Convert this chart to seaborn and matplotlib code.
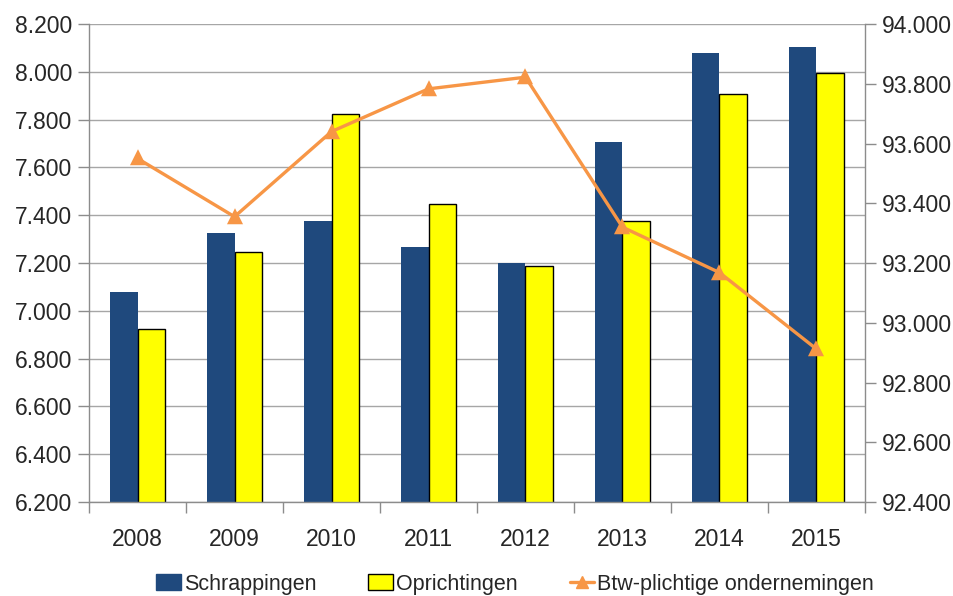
import numpy as np
import pandas as pd
import seaborn as sns
import matplotlib.pyplot as plt
from matplotlib.ticker import FuncFormatter, FixedLocator
from matplotlib.patches import Patch
from matplotlib.lines import Line2D

years = ["2008", "2009", "2010", "2011", "2012", "2013", "2014", "2015"]
schrappingen = [7080, 7326, 7377, 7266, 7200, 7708, 8078, 8104]
oprichtingen = [6923, 7246, 7824, 7447, 7188, 7375, 7908, 7995]
btw_plichtig = [93550, 93355, 93640, 93783, 93822, 93320, 93168, 92912]

navy = "#1F497D"
yellow = "#FFFF00"
orange = "#F79646"
grid_gray = "#A6A6A6"


def dot_thousands(v, pos):
    return "{:,.0f}".format(v).replace(",", ".")


def main():
    sns.set_style("white")
    plt.rcParams["font.family"] = ["Liberation Sans", "DejaVu Sans"]

    bars = pd.DataFrame({
        "jaar": years * 2,
        "waarde": schrappingen + oprichtingen,
        "reeks": ["Schrappingen"] * len(years) + ["Oprichtingen"] * len(years),
    })
    line = pd.DataFrame({"jaar": years, "waarde": btw_plichtig})

    fig, ax = plt.subplots(figsize=(9.54, 5.96), dpi=100)
    fig.subplots_adjust(left=0.0933, right=0.9067, top=0.9597, bottom=0.1577)

    sns.barplot(data=bars, x="jaar", y="waarde", hue="reeks",
                palette=[navy, yellow], saturation=1, width=0.56, gap=0,
                legend=False, ax=ax, zorder=2)
    for i, p in enumerate(ax.patches):
        if i >= len(years):
            p.set_edgecolor("black")
            p.set_linewidth(1.0)
        else:
            p.set_edgecolor(navy)
            p.set_linewidth(0)

    ax.set_ylim(6200, 8200)
    ax.yaxis.set_major_locator(FixedLocator(np.arange(6200, 8201, 200)))
    ax.yaxis.set_major_formatter(FuncFormatter(dot_thousands))
    ax.grid(axis="y", color=grid_gray, linewidth=1.0, zorder=0)
    ax.set_axisbelow(True)
    ax.set_xlim(-0.5, len(years) - 0.5)
    ax.set_xlabel("")
    ax.set_ylabel("")

    for side in ["top", "right"]:
        ax.spines[side].set_visible(False)
    for side in ["left", "bottom"]:
        ax.spines[side].set_color("#8C8C8C")
        ax.spines[side].set_linewidth(1.0)

    ax.tick_params(axis="y", which="major", length=8, width=1, color="#8C8C8C",
                   labelsize=16.5, pad=4, left=True)
    ax.tick_params(axis="x", which="major", length=0, labelsize=16.5, pad=19)
    ax.xaxis.set_minor_locator(FixedLocator(np.arange(-0.5, len(years), 1.0)))
    ax.tick_params(axis="x", which="minor", length=8, width=1, color="#8C8C8C",
                   bottom=True)

    ax2 = ax.twinx()
    sns.pointplot(data=line, x="jaar", y="waarde", color=orange, markers="^",
                  linestyles="-", ax=ax2, markersize=9, linewidth=2.4)
    ax2.set_ylim(92400, 94000)
    ax2.yaxis.set_major_locator(FixedLocator(np.arange(92400, 94001, 200)))
    ax2.yaxis.set_major_formatter(FuncFormatter(dot_thousands))
    ax2.set_xlim(-0.5, len(years) - 0.5)
    ax2.set_ylabel("")
    ax2.set_xlabel("")
    for side in ["top", "left", "bottom"]:
        ax2.spines[side].set_visible(False)
    ax2.spines["right"].set_visible(True)
    ax2.spines["right"].set_color("#8C8C8C")
    ax2.spines["right"].set_linewidth(1.0)
    ax2.tick_params(axis="y", length=8, width=1, color="#8C8C8C",
                    labelsize=16.5, pad=4, right=True)

    handles = [
        Patch(facecolor=navy, edgecolor=navy, label="Schrappingen"),
        Patch(facecolor=yellow, edgecolor="black", linewidth=1.0, label="Oprichtingen"),
        Line2D([0], [0], color=orange, linewidth=2.4, marker="^", markersize=9,
               label="Btw-plichtige ondernemingen"),
    ]
    fig.legend(handles=handles, loc="lower center", bbox_to_anchor=(0.540, -0.03),
               ncol=3, frameon=False, fontsize=15.5, handlelength=1.15,
               handleheight=0.8, handletextpad=0.15, columnspacing=2.4)

    fig.savefig("out.png", dpi=100)


if __name__ == "__main__":
    main()
